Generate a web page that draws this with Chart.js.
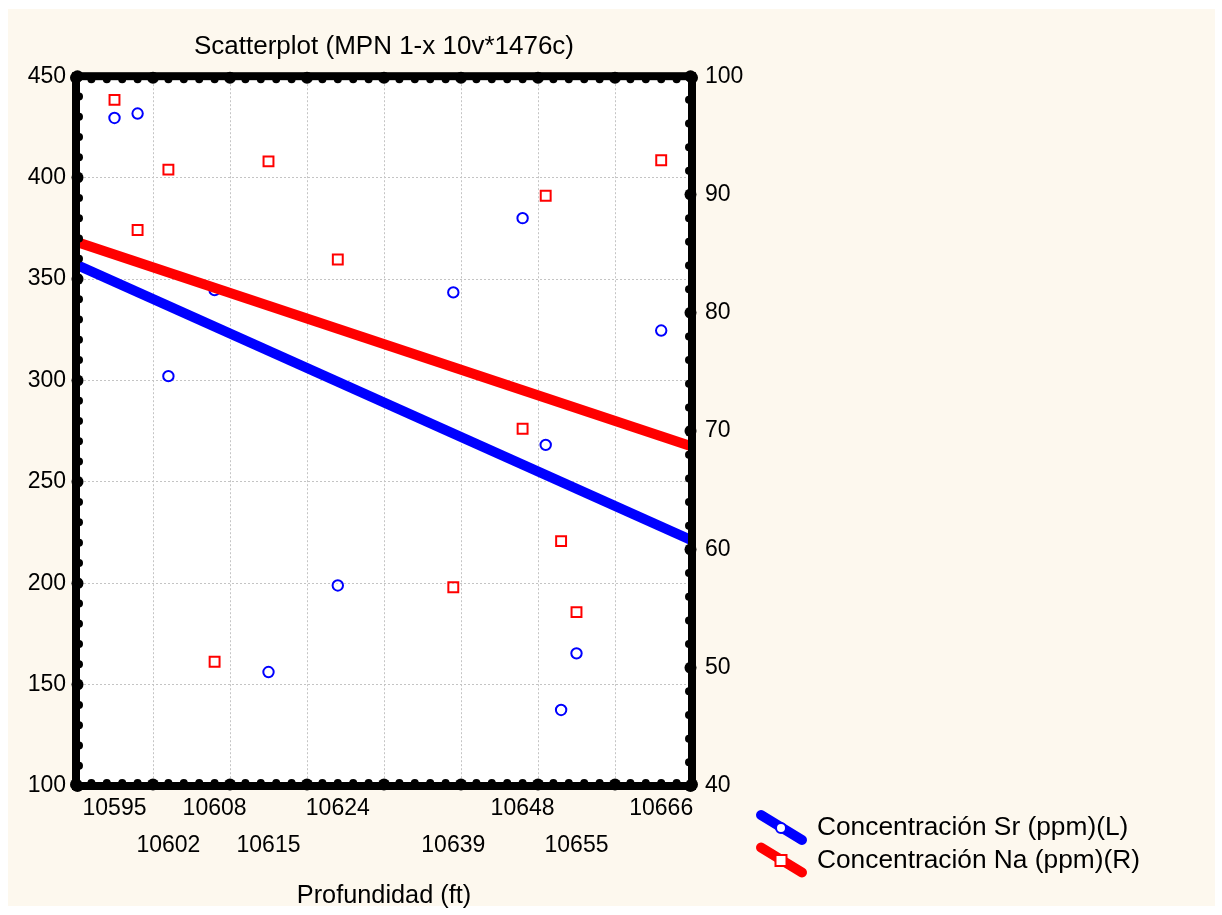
<!DOCTYPE html>
<html>
<head>
<meta charset="utf-8">
<title>Scatterplot</title>
<script src="https://cdn.jsdelivr.net/npm/chart.js@4.4.1/dist/chart.umd.min.js"></script>
<style>
  html, body { margin: 0; padding: 0; background: #fff; }
  canvas { display: block; }
</style>
</head>
<body>
<canvas id="chart" width="1222" height="915"></canvas>
<script>
// profundidad (ft) de cada muestra
const depths = [10595, 10598, 10602, 10608, 10615, 10624, 10639, 10648, 10651, 10653, 10655, 10666];
// Sr (ppm) - eje izquierdo
const srValues = [429.4, 431.6, 302.1, 344.5, 156.2, 198.9, 343.4, 380.0, 268.2, 137.5, 165.4, 324.6];
// Na (ppm) - eje derecho
const naValues = [98.0, 87.0, 92.1, 50.5, 92.8, 84.5, 56.8, 70.2, 89.9, 60.7, 54.7, 92.9];
const fitDepths = [10590, 10670];
const srFit = [357.1, 221.1];
const naFit = [86.0, 68.7];
// etiquetas del eje x (se alternan en dos filas)
const xTickLabels = [10595, 10602, 10608, 10615, 10624, 10639, 10648, 10655, 10666];
const seriesNames = ['Concentración Sr (ppm)(L)', 'Concentración Na (ppm)(R)'];

const BLUE = '#0000ff';
const RED = '#ff0000';
const GRID = '#c4c4c4';
Chart.defaults.font.family = '"Liberation Sans", Arial, sans-serif';
Chart.defaults.color = '#000';

const toPoints = (xs, ys) => xs.map((x, i) => ({ x: x, y: ys[i] }));

// puntos del marco (estilo Statistica)
function frameDots(ctx, scale, from, to, minor, major, place) {
  for (let v = from; v <= to + 1e-9; v += minor) {
    const p = scale.getPixelForValue(v);
    const big = Math.abs(v / major - Math.round(v / major)) < 1e-6;
    place(p, big);
  }
}

const decor = {
  id: 'decor',
  beforeDraw(chart) {
    const ctx = chart.ctx, a = chart.chartArea;
    ctx.save();
    ctx.fillStyle = '#fdf8ee';
    ctx.fillRect(8, 9, 1207, 897);
    ctx.fillStyle = '#fff';
    ctx.fillRect(a.left, a.top, a.right - a.left, a.bottom - a.top);
    ctx.restore();
  },
  afterDatasetsDraw(chart) {
    const ctx = chart.ctx, a = chart.chartArea, s = chart.scales;
    ctx.save();
    ctx.strokeStyle = '#000';
    ctx.fillStyle = '#000';
    ctx.lineWidth = 8;
    ctx.strokeRect(a.left, a.top, a.right - a.left, a.bottom - a.top);
    const dot = (x, y, r) => { ctx.beginPath(); ctx.arc(x, y, r, 0, Math.PI * 2); ctx.fill(); };
    // d = hacia adentro (+1 / -1)
    const side = (edge, d) => (p, big) => big ? [edge + d * 1.5, 6] : [edge + d * 3, 4];
    const L = side(a.left, 1), R = side(a.right, -1), T = side(a.top, 1), B = side(a.bottom, -1);
    frameDots(ctx, s.y, 100, 450, 10, 50, (p, big) => { const [c, r] = L(p, big); dot(c, p, r); });
    frameDots(ctx, s.y2, 40, 100, 2, 10, (p, big) => { const [c, r] = R(p, big); dot(c, p, r); });
    frameDots(ctx, s.x, 10590, 10670, 2, 10, (p, big) => {
      const [c1, r1] = T(p, big); dot(p, c1, r1);
      const [c2, r2] = B(p, big); dot(p, c2, r2);
    });
    ctx.restore();
  },
  afterDraw(chart) {
    // leyenda
    const ctx = chart.ctx;
    const rows = [
      { y: 828, color: BLUE, marker: 'circle', text: seriesNames[0] },
      { y: 860.5, color: RED, marker: 'square', text: seriesNames[1] }
    ];
    ctx.save();
    rows.forEach(r => {
      ctx.strokeStyle = r.color;
      ctx.lineWidth = 10;
      ctx.lineCap = 'round';
      ctx.beginPath();
      ctx.moveTo(761, r.y - 13);
      ctx.lineTo(802, r.y + 12);
      ctx.stroke();
      ctx.lineWidth = 2;
      ctx.fillStyle = '#fff';
      ctx.beginPath();
      if (r.marker === 'circle') ctx.arc(781, r.y, 5, 0, Math.PI * 2);
      else ctx.rect(775.5, r.y - 5.5, 11, 11);
      ctx.fill();
      ctx.stroke();
      ctx.fillStyle = '#000';
      ctx.font = '26.3px "Liberation Sans", Arial, sans-serif';
      ctx.textBaseline = 'middle';
      ctx.fillText(r.text, 817, r.y);
    });
    ctx.restore();
  }
};

new Chart(document.getElementById('chart'), {
  data: {
    datasets: [
      { type: 'line', data: toPoints(fitDepths, srFit), xAxisID: 'x', yAxisID: 'y', borderColor: BLUE, borderWidth: 10, pointRadius: 0, order: 0 },
      { type: 'line', data: toPoints(fitDepths, naFit), xAxisID: 'x', yAxisID: 'y2', borderColor: RED, borderWidth: 10, pointRadius: 0, order: 0 },
      { type: 'scatter', label: seriesNames[0], data: toPoints(depths, srValues), xAxisID: 'x', yAxisID: 'y',
        pointStyle: 'circle', pointRadius: 5.2, borderWidth: 2, borderColor: BLUE, backgroundColor: 'transparent', order: 1 },
      { type: 'scatter', label: seriesNames[1], data: toPoints(depths, naValues), xAxisID: 'x', yAxisID: 'y2',
        pointStyle: 'rect', pointRadius: 7, borderWidth: 2, borderColor: RED, backgroundColor: 'transparent', order: 1 }
    ]
  },
  options: {
    responsive: false,
    animation: false,
    layout: { padding: { left: 0, right: 470, top: 0, bottom: 0 } },
    plugins: {
      legend: { display: false },
      tooltip: { enabled: false },
      title: {
        display: true,
        text: 'Scatterplot (MPN 1-x 10v*1476c)',
        fullSize: false,
        font: { size: 26, weight: 'normal' },
        padding: { top: 31, bottom: 14 }
      }
    },
    scales: {
      // eje de la rejilla vertical (cada 10 ft)
      x: {
        type: 'linear', position: 'bottom', min: 10590, max: 10670,
        ticks: { display: false, stepSize: 10 },
        grid: { color: GRID, drawTicks: false },
        border: { display: false, dash: [2, 2] },
        afterFit: s => { s.height = 0; }
      },
      // eje de etiquetas (profundidades de las muestras)
      x2: {
        type: 'linear', position: 'bottom', min: 10590, max: 10670,
        afterBuildTicks: s => { s.ticks = xTickLabels.map(v => ({ value: v })); },
        ticks: {
          autoSkip: false, maxRotation: 0, minRotation: 0, padding: 4,
          font: { size: 23, lineHeight: 1.6 },
          callback: (v, i) => (i % 2 ? ['', String(v)] : String(v))
        },
        grid: { display: false, drawTicks: false },
        border: { display: false },
        title: { display: true, text: 'Profundidad (ft)', font: { size: 25.3 }, padding: { top: 0, bottom: 4 } },
        afterFit: s => { s.height = 129; }
      },
      y: {
        type: 'linear', position: 'left', min: 100, max: 450,
        ticks: { stepSize: 50, padding: 10, font: { size: 23 } },
        grid: { color: GRID, drawTicks: false },
        border: { display: false, dash: [2, 2] },
        afterFit: s => { s.width = 76; }
      },
      y2: {
        type: 'linear', position: 'right', min: 40, max: 100,
        ticks: { stepSize: 10, padding: 13, font: { size: 23 } },
        grid: { display: false, drawTicks: false },
        border: { display: false },
        afterFit: s => { s.width = 60; }
      }
    }
  },
  plugins: [decor]
});
</script>
</body>
</html>
